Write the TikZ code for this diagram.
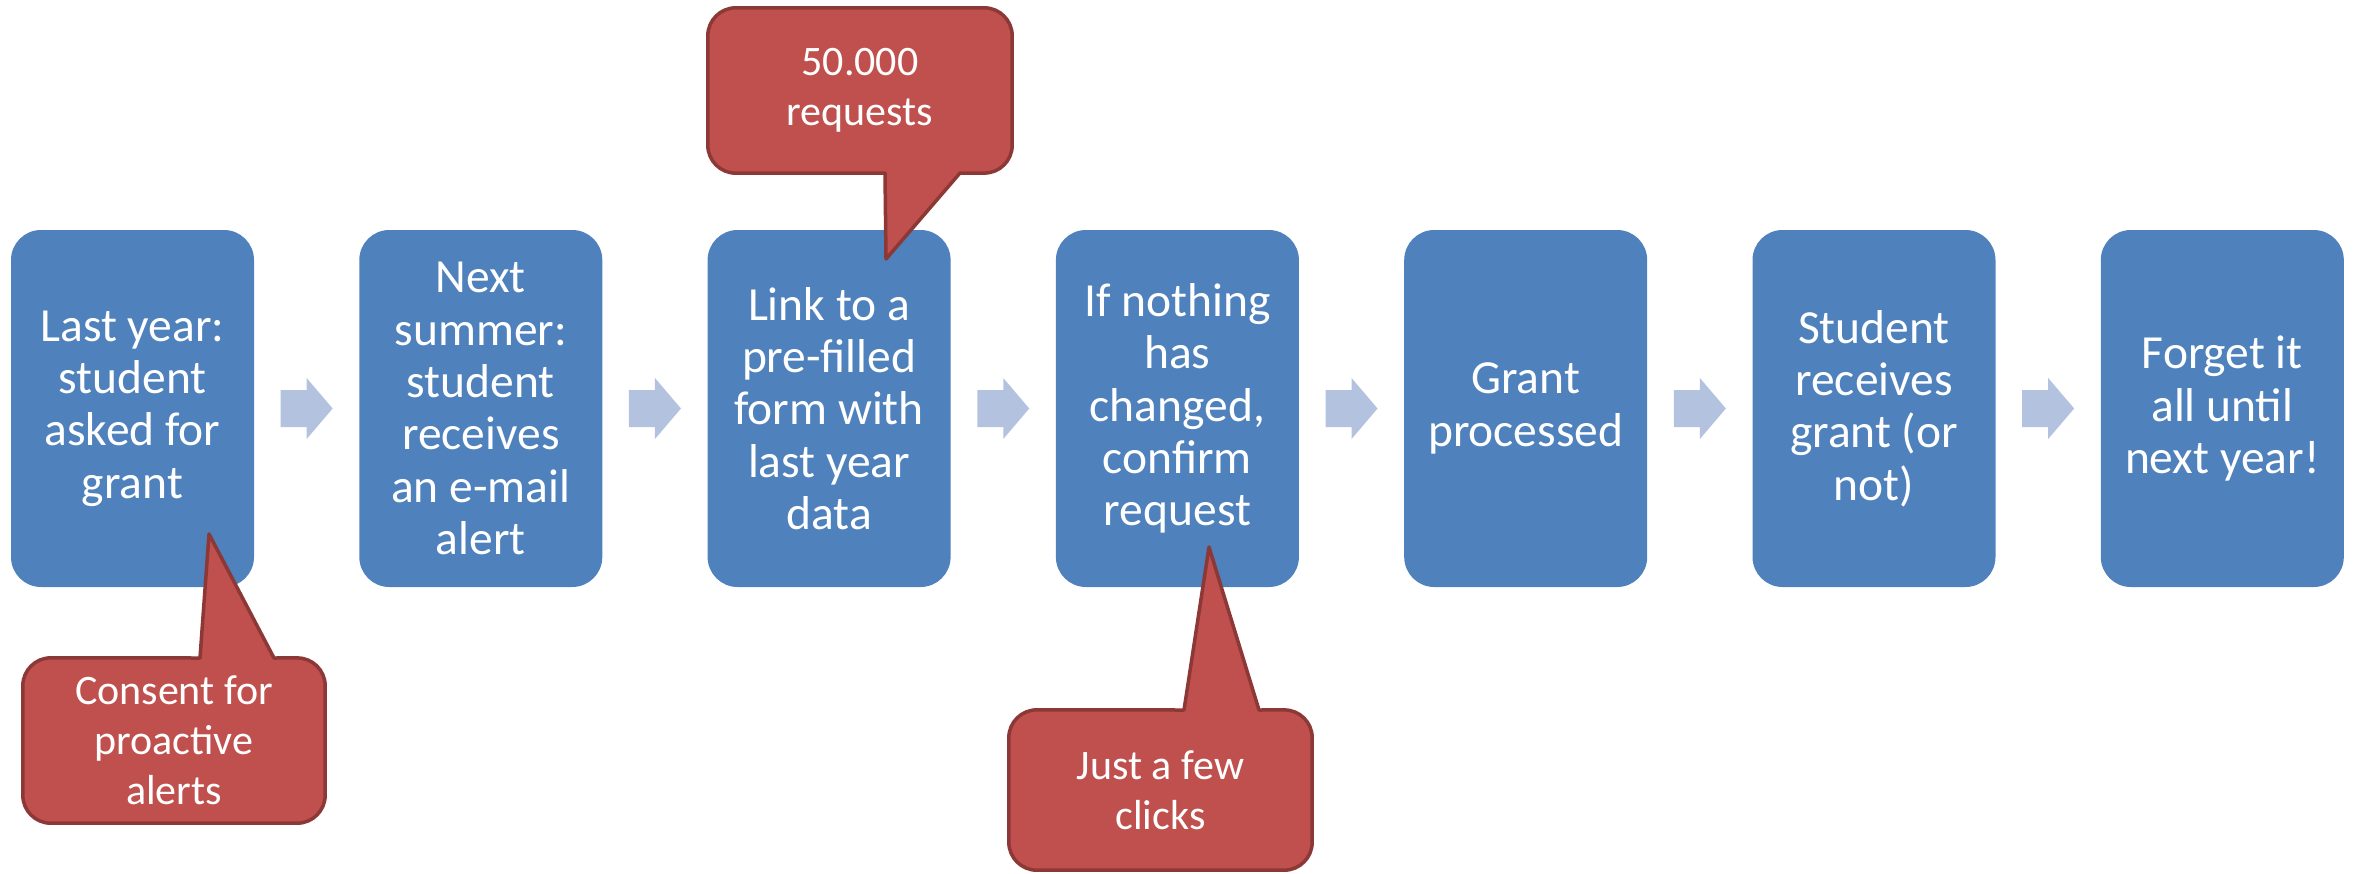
\documentclass[tikz,border=0pt]{standalone}
\usepackage{fontspec}
\setmainfont{Carlito}
\usetikzlibrary{calc}
\definecolor{boxblue}{HTML}{4F81BD}
\definecolor{arrowblue}{HTML}{B3C2DE}
\definecolor{noteRed}{HTML}{C0504D}
\definecolor{noteEdge}{HTML}{8C3836}
\pgfdeclarelayer{front}
\pgfsetlayers{main,front}
\tikzset{
  stepbox/.style={fill=boxblue, draw=none, rounded corners=30pt, inner sep=0pt,
    minimum width=243pt, minimum height=357pt, text=white, align=center,
    font=\fontsize{47.5}{52.3}\selectfont},
  notetext/.style={draw=none, fill=none, inner sep=0pt, text=white, align=center,
    font=\fontsize{42}{50}\selectfont},
  noteshape/.style={fill=noteRed, draw=noteEdge, line width=3.5pt, line join=round},
  pics/flowarrow/.style={code={
    \fill[arrowblue] (-26,-18.5) -- (0,-18.5) -- (0,-30.5) -- (26,0) -- (0,30.5)
      -- (0,18.5) -- (-26,18.5) -- cycle;}}
}
\begin{document}
\begin{tikzpicture}[x=1pt,y=-1pt]
\useasboundingbox (0,0) rectangle (2356,873);

% process steps
\node[stepbox] (b1) at (132.5,408.5) {Last year:\\student\\asked for\\grant};
\node[stepbox] (b2) at (480.8,408.5) {Next\\summer:\\student\\receives\\an e-mail\\alert};
\node[stepbox] (b3) at (829.1,408.5) {Link to a\\pre-filled\\form with\\last year\\data};
\node[stepbox] (b4) at (1177.4,408.5) {If nothing\\has\\changed,\\confirm\\request};
\node[stepbox] (b5) at (1525.7,408.5) {Grant\\processed};
\node[stepbox] (b6) at (1874.0,408.5) {Student\\receives\\grant (or\\not)};
\node[stepbox] (b7) at (2222.3,408.5) {Forget it\\all until\\next year!};

% arrows between steps
\foreach \a/\b in {b1/b2,b2/b3,b3/b4,b4/b5,b5/b6,b6/b7}
  \pic at ($(\a.east)!0.5!(\b.west)$) {flowarrow};

% callout texts (kept above their shapes)
\begin{pgfonlayer}{front}
\node[notetext, minimum width=302pt, minimum height=165pt] (n1) at (174,740.5)
  {Consent for\\proactive\\alerts};
\node[notetext, minimum width=304pt, minimum height=165pt] (n2) at (860,90.5)
  {50.000\\requests};
\node[notetext, minimum width=303pt, minimum height=160pt] (n3) at (1160.5,790)
  {Just a few\\clicks};
\end{pgfonlayer}

% pointer tips
\coordinate (t1) at (209,534);
\coordinate (t2) at (886,259);
\coordinate (t3) at (1209,547);

% callout 1: pointer up into the first step
\path[noteshape] (n1.south) [rounded corners=28pt] -- (n1.south east) -- (n1.north east)
  [sharp corners] -- (274,658) -- (t1) -- (200,658)
  [rounded corners=28pt] -- (n1.north west) -- (n1.south west) -- cycle;

% callout 2: pointer down into the third step
\path[noteshape] (n2.north) [rounded corners=28pt] -- (n2.north west) -- (n2.south west)
  [sharp corners] -- (885,173) -- (t2) -- (960,173)
  [rounded corners=28pt] -- (n2.south east) -- (n2.north east) -- cycle;

% callout 3: pointer up into the fourth step
\path[noteshape] (n3.south) [rounded corners=28pt] -- (n3.south east) -- (n3.north east)
  [sharp corners] -- (1259,710) -- (t3) -- (1184,710)
  [rounded corners=28pt] -- (n3.north west) -- (n3.south west) -- cycle;
\end{tikzpicture}
\end{document}
